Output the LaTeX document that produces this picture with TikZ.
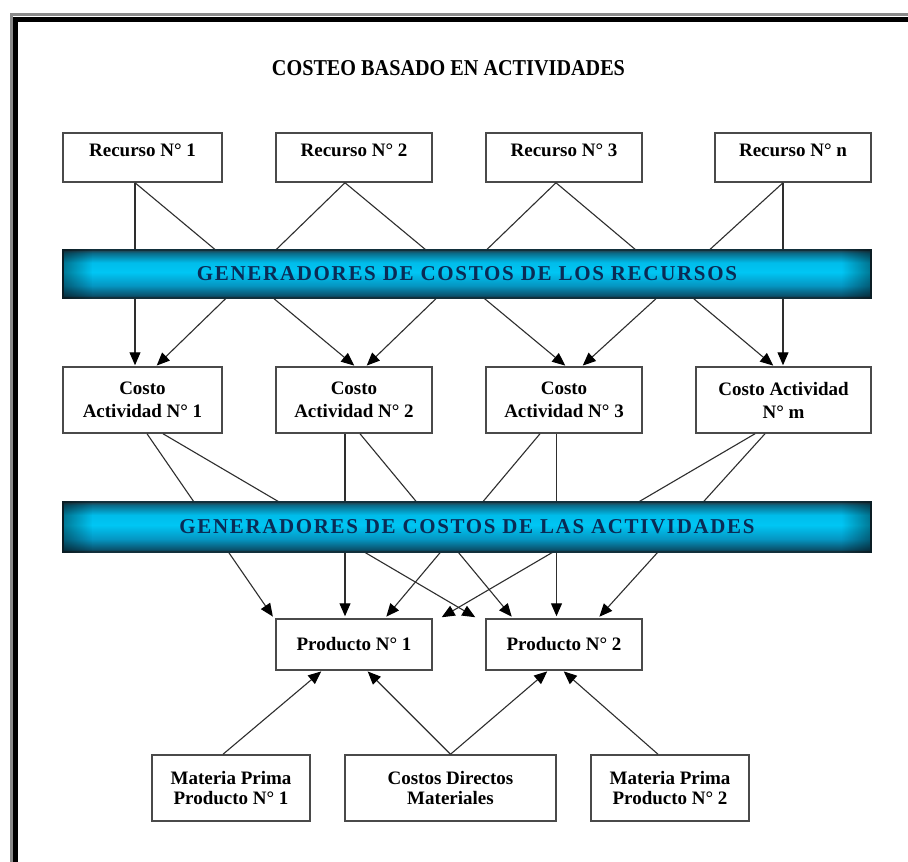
\documentclass[tikz,border=0pt]{standalone}
\usepackage{fontspec}
\setmainfont{Liberation Serif}
\usepackage{graphicx}
\usetikzlibrary{arrows.meta,calc,fadings}

\definecolor{bandT}{HTML}{243F4A}
\definecolor{bandA}{HTML}{0A6A88}
\definecolor{bandB}{HTML}{00BCEA}
\definecolor{bandC}{HTML}{00C6F4}
\definecolor{bandD}{HTML}{0596C2}
\definecolor{bandE}{HTML}{0A5470}
\definecolor{bandF}{HTML}{0E3444}
\definecolor{bandedge}{HTML}{12303C}
\definecolor{bandtext}{HTML}{0A2B55}
\definecolor{boxline}{HTML}{4A4A4A}
\definecolor{connline}{HTML}{2E2E2E}
\definecolor{framegray}{HTML}{8A8A8A}

\pgfdeclareverticalshading{bandshade}{100bp}{color(0bp)=(bandF); color(25bp)=(bandF); color(28bp)=(bandE); color(38bp)=(bandD); color(52bp)=(bandC); color(62bp)=(bandB); color(72bp)=(bandA); color(75bp)=(bandT); color(100bp)=(bandT)}

\tikzfading[name=fadeleft, left color=transparent!0, right color=transparent!100]
\tikzfading[name=faderight, left color=transparent!100, right color=transparent!0]

\newcommand{\bandtext}[2]{\resizebox{#1}{14pt}{\addfontfeature{LetterSpace=8}#2}}

\begin{document}
\begin{tikzpicture}[x=1pt,y=-1pt,
  box/.style={draw=boxline, line width=1.5pt, fill=white, inner sep=0pt, align=center},
  rbox/.style={box, minimum width=156pt, minimum height=49pt, text height=13pt, text depth=15pt,
    font=\fontsize{19}{23}\selectfont\bfseries},
  cbox/.style={box, minimum width=156pt, minimum height=66pt, font=\fontsize{19}{23}\selectfont\bfseries},
  pbox/.style={box, minimum width=156pt, minimum height=51pt, font=\fontsize{19}{23}\selectfont\bfseries},
  mbox/.style={box, minimum height=66pt, font=\fontsize{19}{20.5}\selectfont\bfseries},
  band/.style={shade, shading=bandshade, draw=bandedge, line width=1.2pt, minimum width=808pt,
    inner sep=0pt, text=bandtext, font=\bfseries},
  conn/.style={draw=connline, line width=1.1pt, -{Triangle[length=13pt,width=11pt,fill=black,color=black]}},
  frameline/.style={line join=miter, line cap=rect}
]
\useasboundingbox (0,0) rectangle (908,862);
\fill[white] (0,0) rectangle (908,862);
\clip (0,0) rectangle (908,862);

% frame
\draw[frameline, framegray, line width=3pt] (11.5,880) -- (11.5,14.5) -- (930,14.5);
\draw[frameline, black, line width=5pt] (15.5,880) -- (15.5,19.5) -- (930,19.5);

% title
\node (title) at (448.5,68) {\bfseries\resizebox{353pt}{15pt}{COSTEO BASADO EN ACTIVIDADES}};

% resources
\node[rbox, minimum width=159pt] (R1) at (142.5,157.5) {Recurso N° 1};
\node[rbox] (R2) at (354,157.5) {Recurso N° 2};
\node[rbox] (R3) at (564,157.5) {Recurso N° 3};
\node[rbox] (Rn) at (793,157.5) {Recurso N° n};

% activity costs
\node[cbox, minimum width=159pt] (C1) at (142.5,400) {Costo\\Actividad N° 1};
\node[cbox] (C2) at (354,400) {Costo\\Actividad N° 2};
\node[cbox] (C3) at (564,400) {Costo\\Actividad N° 3};
\node[cbox, minimum width=175pt] (Cm) at (783.5,400) {Costo Actividad\\N° m};

% products
\node[pbox] (P1) at (354,644.5) {Producto N° 1};
\node[pbox] (P2) at (564,644.5) {Producto N° 2};

% bottom inputs
\node[mbox, minimum width=158pt] (M1) at (231,788) {Materia Prima\\Producto N° 1};
\node[mbox, minimum width=211pt] (CD) at (450.5,788) {Costos Directos\\Materiales};
\node[mbox, minimum width=158pt] (M2) at (670,788) {Materia Prima\\Producto N° 2};

% level 1 connectors
\draw[conn, shorten >=1pt] ($(R1.south)+(-7.5,0)$) -- ($(C1.north)+(-7.5,0)$);
\draw[conn, shorten >=1pt] ($(R1.south)+(-7.5,0)$) -- ($(C2.north)+(1,0)$);
\draw[conn, shorten >=1pt] ($(R2.south)+(-9,0)$) -- ($(C1.north)+(13.5,0)$);
\draw[conn, shorten >=1pt] ($(R2.south)+(-9,0)$) -- ($(C3.north)+(2,0)$);
\draw[conn, shorten >=1pt] ($(R3.south)+(-8,0)$) -- ($(C2.north)+(12,0)$);
\draw[conn, shorten >=1pt] ($(R3.south)+(-8,0)$) -- ($(Cm.north)+(-9.5,0)$);
\draw[conn, shorten >=1pt] ($(Rn.south)+(-10,0)$) -- ($(C3.north)+(18,0)$);
\draw[conn, shorten >=1pt] ($(Rn.south)+(-10,0)$) -- ($(Cm.north)+(-0.5,0)$);

% level 2 connectors
\draw[conn, shorten >=2pt] ($(C1.south)+(4.5,0)$) -- ($(P1.north)+(-80,0)$);
\draw[conn, shorten >=2pt] ($(C1.south)+(20.5,0)$) -- ($(P2.north)+(-87,0)$);
\draw[conn, shorten >=2pt] ($(C2.south)+(-9,0)$) -- ($(P1.north)+(-9,0)$);
\draw[conn, shorten >=2pt] ($(C2.south)+(6,0)$) -- ($(P2.north)+(-51,0)$);
\draw[conn, shorten >=2pt] ($(C3.south)+(-24,0)$) -- ($(P1.north)+(31,0)$);
\draw[conn, shorten >=2pt] ($(C3.south)+(-7.5,0)$) -- ($(P2.north)+(-7.5,0)$);
\draw[conn, shorten >=2pt] ($(Cm.south)+(-28.5,0)$) -- ($(P1.north)+(86,0)$);
\draw[conn, shorten >=2pt] ($(Cm.south)+(-18.5,0)$) -- ($(P2.north)+(34,0)$);

% level 3 connectors
\draw[conn, shorten >=1pt] ($(M1.north)+(-8,0)$) -- ($(P1.south)+(-32,0)$);
\draw[conn, shorten >=1pt] (CD.north) -- ($(P1.south)+(13,0)$);
\draw[conn, shorten >=1pt] (CD.north) -- ($(P2.south)+(-16,0)$);
\draw[conn, shorten >=1pt] ($(M2.north)+(-12,0)$) -- ($(P2.south)+(-1,0)$);

% bands
\node[band, minimum height=48pt] (G1) at (467,274) {\raisebox{2pt}{\bandtext{540pt}{GENERADORES DE COSTOS DE LOS RECURSOS}}};
\node[band, minimum height=50pt] (G2) at (467,527) {\bandtext{575pt}{GENERADORES DE COSTOS DE LAS ACTIVIDADES}};

\foreach \g in {G1,G2}{
  \fill[black, fill opacity=0.4, path fading=fadeleft] (\g.north west) rectangle ($(\g.south west)+(30,0)$);
  \fill[black, fill opacity=0.4, path fading=faderight] ($(\g.north east)+(-30,0)$) rectangle (\g.south east);
}
\end{tikzpicture}
\end{document}
